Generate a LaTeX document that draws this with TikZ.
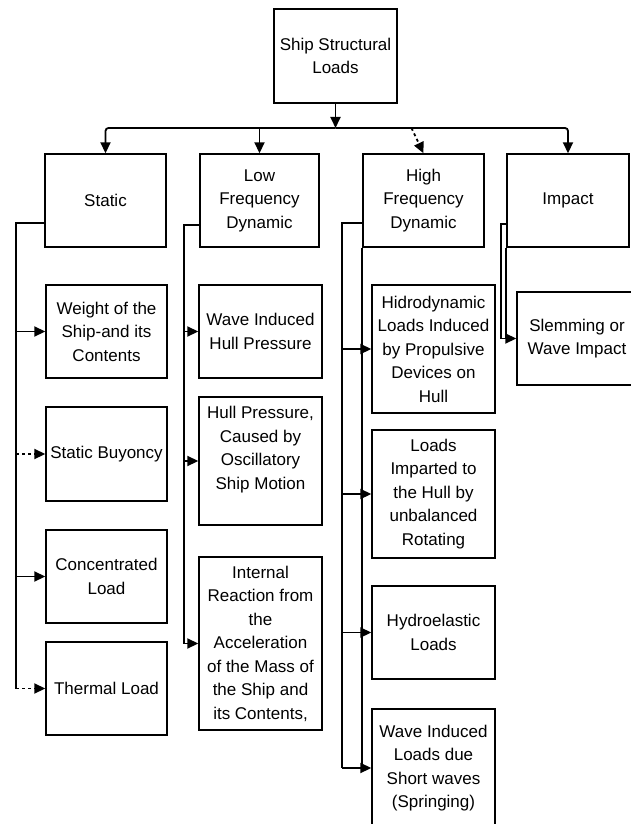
\documentclass[tikz,border=0pt]{standalone}
\usepackage{fontspec}
\setmainfont{Liberation Sans}
\usetikzlibrary{arrows.meta, positioning}

\begin{document}
\begin{tikzpicture}[x=1pt, y=-1pt,
    caja/.style={draw=black, line width=1.4pt, align=center, inner sep=1pt,
      font=\fontsize{17}{23.5}\selectfont, minimum width=121pt, minimum height=93pt},
    linea/.style={line width=1.8pt},
    flecha/.style={linea, -{Triangle[length=11pt, width=10pt]}}]
  \path[fill=white, use as bounding box] (0,0) rectangle (630,824);

  % raiz y nivel 1
  \node[caja, minimum width=123pt, minimum height=94pt] (raiz) at (335.5,56) {Ship Structural\\Loads};
  \node[caja] (static) at (105.5,200.5) {Static};
  \node[caja, minimum width=119pt] (lowfreq) at (259.5,200.5) {Low\\Frequency\\Dynamic};
  \node[caja] (highfreq) at (423.5,200.5) {High\\Frequency\\Dynamic};
  \node[caja, minimum width=122pt] (impact) at (568,200.5) {Impact};

  % cargas estaticas
  \node[caja] (weight) at (106.5,331.5) {Weight of the\\Ship-and its\\Contents};
  \node[caja, minimum height=94pt] (buoyancy) at (106.5,454) {Static Buyoncy};
  \node[caja] (concentrated) at (106.5,576.5) {Concentrated\\Load};
  \node[caja] (thermal) at (106.5,688.5) {Thermal Load};

  % baja frecuencia
  \node[caja, minimum width=123pt] (wavehull) at (260.5,331.5) {Wave Induced\\Hull Pressure};
  \node[caja, minimum width=123pt, minimum height=128pt] (hullpress) at (260.5,461) {Hull Pressure,\\Caused by\\Oscillatory\\Ship Motion\\[3pt]\mbox{}};
  \node[caja, minimum width=123pt, minimum height=173pt] (internal) at (260.5,643.5) {Internal\\Reaction from\\the\\Acceleration\\of the Mass of\\the Ship and\\its Contents,};

  % alta frecuencia
  \node[caja, minimum width=123pt, minimum height=128pt] (hydrodyn) at (433.5,349) {Hidrodynamic\\Loads Induced\\by Propulsive\\Devices on\\Hull};
  \node[caja, minimum width=123pt, minimum height=128pt] (imparted) at (433.5,494) {Loads\\Imparted to\\the Hull by\\unbalanced\\Rotating};
  \node[caja, minimum width=123pt] (hydroelastic) at (433.5,632.5) {Hydroelastic\\Loads};
  \node[caja, minimum width=123pt, minimum height=118pt] (springing) at (433.5,768) {Wave Induced\\Loads due\\Short waves\\(Springing)};

  % impacto
  \node[caja, minimum width=120pt] (slemming) at (577,338.5) {Slemming or\\Wave Impact};

  % barra superior
  \coordinate (bar) at (335.5,128);
  \draw[flecha] (raiz.south) -- (bar);
  \draw[flecha, rounded corners=3pt] (bar) -| (static.north);
  \draw[flecha, rounded corners=3pt] (bar) -| (impact.north);
  \draw[flecha] (bar -| lowfreq.north) -- (lowfreq.north);
  \draw[flecha, dashed] ([xshift=-12pt]bar -| highfreq.north) -- (highfreq.north);

  % bus static
  \coordinate (sbus) at (16,223);
  \draw[linea] (static.west |- sbus) -- (sbus) -- (sbus |- thermal.west);
  \foreach \n in {weight, concentrated}
    \draw[flecha] (sbus |- \n.west) -- (\n.west);
  \foreach \n in {buoyancy, thermal}
    \draw[flecha, dashed] (sbus |- \n.west) -- (\n.west);

  % bus low freq
  \coordinate (lbus) at (184,225);
  \draw[linea] (lowfreq.west |- lbus) -- (lbus) -- (lbus |- internal.west);
  \foreach \n in {wavehull, hullpress, internal}
    \draw[flecha] (lbus |- \n.west) -- (\n.west);

  % bus high freq
  \coordinate (hbus) at (342,223);
  \draw[linea] (highfreq.west |- hbus) -- (hbus) -- (hbus |- springing.west);
  \draw[linea] (highfreq.south west) -- (highfreq.south west |- springing.west);
  \foreach \n in {hydrodyn, imparted, hydroelastic, springing}
    \draw[flecha] (hbus |- \n.west) -- (\n.west);

  % bus impact
  \coordinate (ibus) at (501,224);
  \draw[linea] (impact.west |- ibus) -- (ibus) -- (ibus |- slemming.west);
  \draw[linea] (impact.south west) -- (impact.south west |- slemming.west);
  \draw[flecha] (ibus |- slemming.west) -- (slemming.west);
\end{tikzpicture}
\end{document}
